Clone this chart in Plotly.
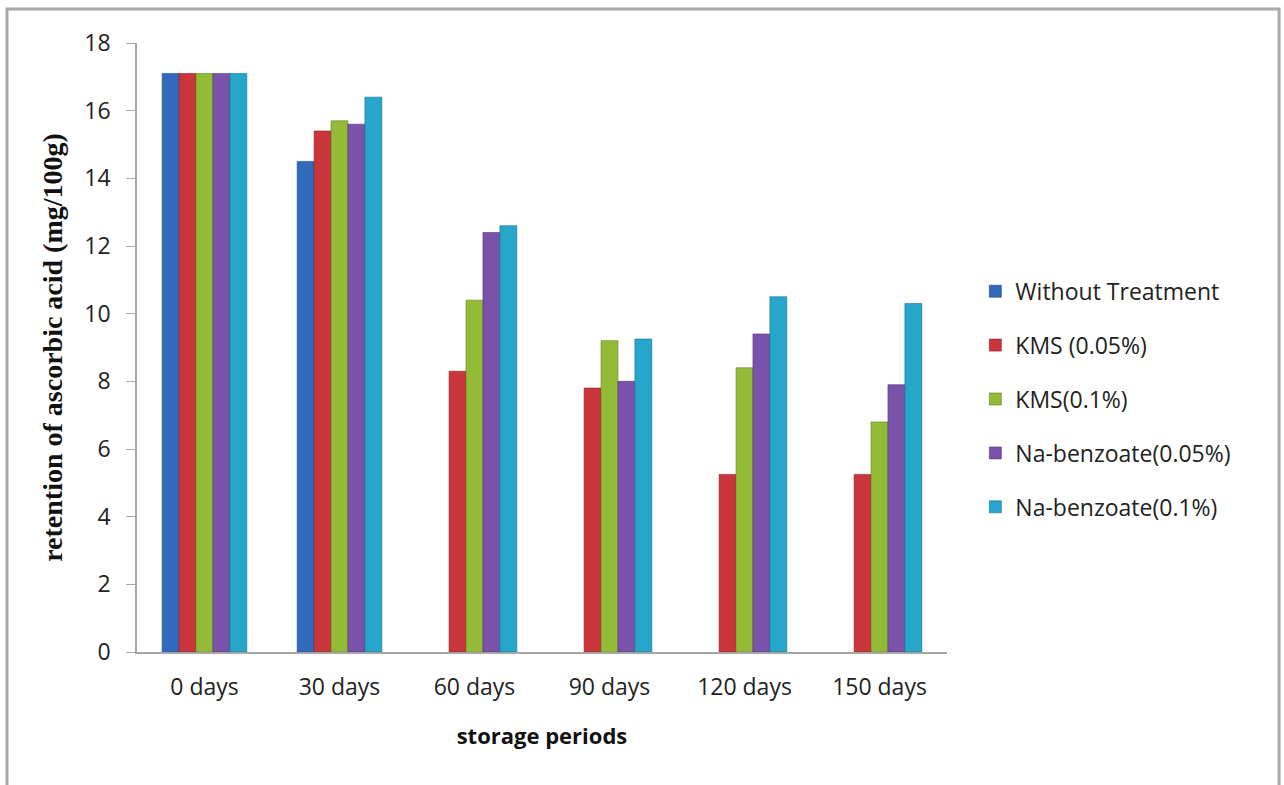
import plotly.graph_objects as go

categories = ["0 days", "30 days", "60 days", "90 days", "120 days", "150 days"]
series_names = ["Without Treatment", "KMS (0.05%)", "KMS(0.1%)",
                "Na-benzoate(0.05%)", "Na-benzoate(0.1%)"]
without_treatment = [17.1, 14.5, None, None, None, None]
kms_005 = [17.1, 15.4, 8.3, 7.8, 5.25, 5.25]
kms_01 = [17.1, 15.7, 10.4, 9.2, 8.4, 6.8]
nab_005 = [17.1, 15.6, 12.4, 8.0, 9.4, 7.9]
nab_01 = [17.1, 16.4, 12.6, 9.25, 10.5, 10.3]
y_ticks = [0, 2, 4, 6, 8, 10, 12, 14, 16, 18]

colors = ["#3169bd", "#c9353a", "#93bb36", "#7a52a9", "#26a6cb"]
edge = ["#20467f", "#862226", "#62802a", "#523673", "#1a6f88"]
values = [without_treatment, kms_005, kms_01, nab_005, nab_01]

fig = go.Figure()
for name, vals, c, e in zip(series_names, values, colors, edge):
    fig.add_trace(go.Bar(
        x=categories, y=vals, name=name, legendgroup=name,
        marker=dict(color=c, line=dict(color=e, width=0.6)),
    ))

fig.update_layout(
    width=1284, height=785,
    margin=dict(l=137, r=337, t=43, b=133),
    paper_bgcolor="white", plot_bgcolor="white",
    barmode="group", bargap=0.373, bargroupgap=0.0,
    font=dict(family="Open Sans, Liberation Sans, sans-serif", color="#222"),
    legend=dict(
        x=1.035, y=0.415, xanchor="left", yanchor="middle",
        font=dict(size=23, color="#222"),
        tracegroupgap=21, itemwidth=30,
        bgcolor="rgba(0,0,0,0)",
    ),
    xaxis=dict(
        showline=True, linecolor="#a6a6a6", linewidth=1.5,
        ticks="", tickfont=dict(size=23, color="#222"),
        ticklabelstandoff=14,
        showgrid=False,
        title=dict(text="<b>storage periods</b>",
                   font=dict(size=22, color="#111"), standoff=27),
    ),
    yaxis=dict(
        range=[0, 18], tickvals=y_ticks,
        showline=True, linecolor="#a6a6a6", linewidth=1.5,
        ticks="outside", ticklen=9, tickcolor="#a6a6a6",
        tickfont=dict(size=23, color="#222"),
        ticklabelstandoff=11,
        showgrid=False, zeroline=False,
        title=dict(text="<b>retention of ascorbic acid (mg/100g)</b>",
                   font=dict(family="Liberation Serif, Times New Roman, serif",
                             size=28, color="#111"), standoff=14),
    ),
    shapes=[dict(type="rect", xref="paper", yref="paper",
                 x0=-0.1605, x1=1.41, y0=-0.23, y1=1.0558,
                 line=dict(color="#a8a8a8", width=3), fillcolor="rgba(0,0,0,0)",
                 layer="below")],
)

fig.write_html("out.html")
